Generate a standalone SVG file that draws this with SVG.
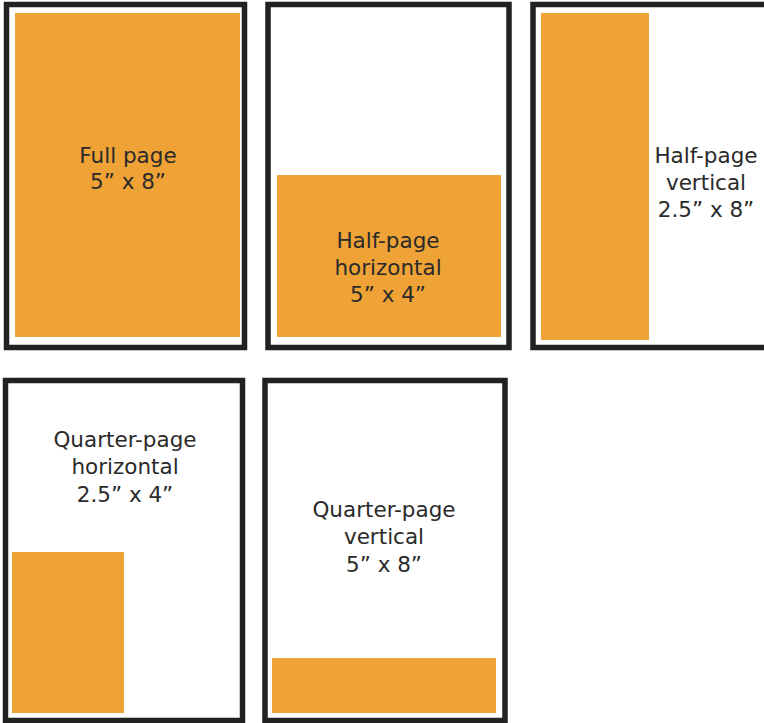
<svg xmlns="http://www.w3.org/2000/svg" width="764" height="723" viewBox="0 0 764 723">
<style>
.frame{fill:#fff;stroke:#222;stroke-width:5.5}
.ad{fill:#EFA236}
.lbl{font-family:"DejaVu Sans","Liberation Sans",sans-serif;font-size:21.5px;fill:#2a2a2a;text-anchor:middle}
</style>
<rect width="764" height="723" fill="#fff"/>
<g id="full-page">
<rect class="frame" x="6.5" y="4.5" width="238" height="343"/>
<rect class="ad" x="15" y="13" width="225" height="324"/>
<text class="lbl" x="128" y="163">Full page</text>
<text class="lbl" x="128" y="189">5” x 8”</text>
</g>
<g id="half-page-horizontal">
<rect class="frame" x="268" y="4.5" width="241" height="343"/>
<rect class="ad" x="277" y="175" width="224" height="162"/>
<text class="lbl" x="388" y="248">Half-page</text>
<text class="lbl" x="388" y="275">horizontal</text>
<text class="lbl" x="388" y="302">5” x 4”</text>
</g>
<g id="half-page-vertical">
<rect class="frame" x="533" y="4.5" width="260" height="343"/>
<rect class="ad" x="541" y="13" width="108" height="327"/>
<text class="lbl" x="706" y="163">Half-page</text>
<text class="lbl" x="706" y="190">vertical</text>
<text class="lbl" x="706" y="217">2.5” x 8”</text>
</g>
<g id="quarter-page-horizontal">
<rect class="frame" x="5.5" y="380.5" width="237" height="340"/>
<rect class="ad" x="12" y="552" width="112" height="161"/>
<text class="lbl" x="125" y="447">Quarter-page</text>
<text class="lbl" x="125" y="474">horizontal</text>
<text class="lbl" x="125" y="502">2.5” x 4”</text>
</g>
<g id="quarter-page-vertical">
<rect class="frame" x="265" y="380.5" width="240" height="340"/>
<rect class="ad" x="272" y="658" width="224" height="55"/>
<text class="lbl" x="384" y="517">Quarter-page</text>
<text class="lbl" x="384" y="544">vertical</text>
<text class="lbl" x="384" y="572">5” x 8”</text>
</g>
<g id="connectors"></g>
</svg>
